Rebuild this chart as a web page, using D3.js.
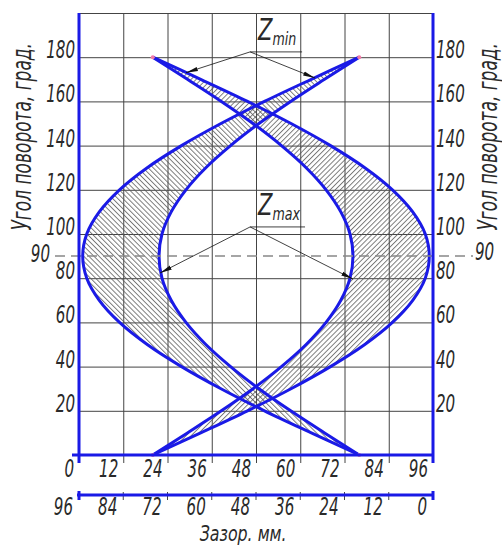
<!DOCTYPE html>
<html>
<head>
<meta charset="utf-8">
<script src="https://cdn.jsdelivr.net/npm/d3@7"></script>
<style>
    body { margin: 0; background: #fff; }
    svg text {
        font-family: "DejaVu Sans Condensed", "DejaVu Sans", sans-serif;
        font-style: italic;
        fill: #2a2a2a;
    }
</style>
</head>
<body>
<div id="chart"></div>
<script>
// angle of rotation, degrees
const angles = [0, 10, 20, 30, 40, 50, 60, 70, 80, 90, 100, 110, 120, 130, 140, 150, 160, 170, 180];
// clearance read on the upper scale (right-hand band); the left band is the same curve read on the lower, reversed scale
const outerGap = [20, 33.0, 45.7, 57.5, 68.2, 77.5, 85.0, 90.5, 93.9, 95.0, 93.9, 90.5, 85.0, 77.5, 68.2, 57.5, 45.7, 33.0, 20];
const innerGap = [20, 29.4, 38.6, 47.2, 54.9, 61.6, 67.0, 71.0, 73.5, 74.3, 73.5, 71.0, 67.0, 61.6, 54.9, 47.2, 38.6, 29.4, 20];

const gapTicks = [0, 12, 24, 36, 48, 60, 72, 84, 96];
const angleGrid = [0, 20, 40, 60, 80, 100, 120, 140, 160, 180, 200];
const angleLabels = [20, 40, 60, 80, 100, 120, 140, 160, 180];
const markAngle = 90;

// leader notes, in upper-scale mm / degrees
const zMinShelf = [46.4, 60.5, 182.4];
const zMinTips = [[29.0, 173], [64.0, 170.6]];
const zMaxShelf = [46.4, 61.3, 103.2];
const zMaxTips = [[22.0, 82.4], [74.3, 79.6]];

const BLUE = "#1a1ae6";
const NARROW = 0.7;   // squeeze the font to look like the drawing type
const width = 502, height = 546;
const margin = { left: 79, right: 69, top: 13, bottom: 91 };

const svg = d3.select("#chart").append("svg")
    .attr("width", width)
    .attr("height", height);

const x = d3.scaleLinear().domain([0, 96]).range([margin.left, width - margin.right]);
const xRev = d3.scaleLinear().domain([96, 0]).range([margin.left, width - margin.right]);
const y = d3.scaleLinear().domain([0, 200]).range([height - margin.bottom, margin.top]);

const y0 = y(0), x0 = x(0), x1 = x(96);

const at = (px, py, s = NARROW) => `translate(${px},${py}) scale(${s},1)`;

// hatch patterns
const defs = svg.append("defs");
[["hatchR", 45], ["hatchL", -45]].forEach(([id, rot]) => {
    const p = defs.append("pattern")
        .attr("id", id)
        .attr("patternUnits", "userSpaceOnUse")
        .attr("width", 3.6).attr("height", 10)
        .attr("patternTransform", `rotate(${rot})`);
    p.append("line")
        .attr("x1", 0.5).attr("x2", 0.5).attr("y1", 0).attr("y2", 10)
        .attr("stroke", "#555").attr("stroke-width", 0.8);
});
defs.append("marker")
    .attr("id", "arrow")
    .attr("viewBox", "0 0 12 6")
    .attr("refX", 12).attr("refY", 3)
    .attr("markerWidth", 12).attr("markerHeight", 6)
    .attr("markerUnits", "userSpaceOnUse")
    .attr("orient", "auto")
    .append("path").attr("d", "M0,0.8L12,3L0,5.2Z").attr("fill", "#111");

// grid
svg.append("g")
    .attr("transform", `translate(0,${y0 + 8})`)
    .call(d3.axisBottom(x).tickValues(gapTicks).tickSize(-(y0 + 8 - margin.top)).tickFormat(""))
    .call(g => g.select(".domain").remove())
    .call(g => g.selectAll("line").attr("stroke", "#444").attr("stroke-width", 1));
svg.append("g")
    .attr("transform", `translate(${x0},0)`)
    .call(d3.axisLeft(y).tickValues(angleGrid).tickSize(-(x1 - x0)).tickFormat(""))
    .call(g => g.select(".domain").remove())
    .call(g => g.selectAll("line").attr("stroke", "#444").attr("stroke-width", 1));

// bands
const pts = angles.map((a, i) => ({ a, o: outerGap[i], n: innerGap[i] }));
const bands = [{ sx: x, fill: "url(#hatchR)" }, { sx: xRev, fill: "url(#hatchL)" }];

bands.forEach(b => {
    const area = d3.area()
        .y(d => y(d.a))
        .x0(d => b.sx(d.n))
        .x1(d => b.sx(d.o))
        .curve(d3.curveCatmullRom);
    svg.append("path").datum(pts).attr("d", area).attr("fill", b.fill);
});

bands.forEach(b => {
    ["o", "n"].forEach(k => {
        const line = d3.line()
            .x(d => b.sx(d[k]))
            .y(d => y(d.a))
            .curve(d3.curveCatmullRom);
        svg.append("path").datum(pts).attr("d", line)
            .attr("fill", "none").attr("stroke", BLUE)
            .attr("stroke-width", 3).attr("stroke-linejoin", "round");
    });
    svg.selectAll(null).data([pts[0], pts[pts.length - 1]]).join("circle")
        .attr("cx", d => b.sx(d.o)).attr("cy", d => y(d.a))
        .attr("r", 2).attr("fill", "#f27aa8");
});

// 90 degree dashed mark
svg.append("line")
    .attr("x1", x0 - 24).attr("x2", x1 + 40)
    .attr("y1", y(markAngle)).attr("y2", y(markAngle))
    .attr("stroke", "#888").attr("stroke-width", 1.5)
    .attr("stroke-dasharray", "10,6");

// blue frame: side axes
[x0, x1].forEach(px => {
    svg.append("line")
        .attr("x1", px).attr("x2", px)
        .attr("y1", margin.top).attr("y2", y0 + 8)
        .attr("stroke", BLUE).attr("stroke-width", 3);
});

// upper gap scale
svg.append("line")
    .attr("x1", x0 - 7).attr("x2", x1).attr("y1", y0).attr("y2", y0)
    .attr("stroke", BLUE).attr("stroke-width", 3);
svg.selectAll(null).data(gapTicks).join("text")
    .attr("transform", d => at(x(d) - 5, y0 + 22))
    .attr("text-anchor", "end").attr("font-size", 24)
    .text(d => d);

// lower reversed gap scale
const yLow = y0 + 40;
svg.append("g")
    .selectAll("line").data(gapTicks.slice(1, -1)).join("line")
    .attr("x1", d => xRev(d)).attr("x2", d => xRev(d))
    .attr("y1", yLow - 3).attr("y2", yLow + 5)
    .attr("stroke", "#444");
svg.append("line")
    .attr("x1", x0 - 2).attr("x2", x1).attr("y1", yLow).attr("y2", yLow)
    .attr("stroke", BLUE).attr("stroke-width", 3);
[x0, x1].forEach(px => {
    svg.append("line")
        .attr("x1", px).attr("x2", px).attr("y1", yLow - 4).attr("y2", yLow + 5)
        .attr("stroke", BLUE).attr("stroke-width", 3);
});
svg.selectAll(null).data(gapTicks).join("text")
    .attr("transform", d => at(xRev(d) - 6, yLow + 20))
    .attr("text-anchor", "end").attr("font-size", 24)
    .text(d => d);

svg.append("text")
    .attr("transform", at(x(44.5), height - 5, 0.8))
    .attr("text-anchor", "middle").attr("font-size", 22)
    .text("Зазор. мм.");

// angle labels, both sides
svg.selectAll(null).data(angleLabels).join("text")
    .attr("transform", d => at(x0 - 4, y(d) + 1))
    .attr("text-anchor", "end").attr("font-size", 24)
    .text(d => d);
svg.selectAll(null).data(angleLabels).join("text")
    .attr("transform", d => at(x1 + 3, y(d) + 1))
    .attr("text-anchor", "start").attr("font-size", 24)
    .text(d => d);
svg.append("text")
    .attr("transform", at(x0 - 29, y(markAngle) + 6))
    .attr("text-anchor", "end").attr("font-size", 24)
    .text(markAngle);
svg.append("text")
    .attr("transform", at(x1 + 42, y(markAngle) + 4))
    .attr("text-anchor", "start").attr("font-size", 24)
    .text(markAngle);

// axis titles
svg.append("text")
    .attr("transform", `translate(31,${y(144)}) rotate(-90) scale(${NARROW},1)`)
    .attr("text-anchor", "middle").attr("font-size", 27)
    .text("Угол поворота, град.");
svg.append("text")
    .attr("transform", `translate(497,${y(144)}) rotate(-90) scale(${NARROW},1)`)
    .attr("text-anchor", "middle").attr("font-size", 27)
    .text("Угол поворота, град.");

// Zmin / Zmax leaders
function note(shelf, tips, sub) {
    const [a, b, deg] = shelf;
    const g = svg.append("g");
    g.append("line")
        .attr("x1", x(a)).attr("x2", x(b)).attr("y1", y(deg)).attr("y2", y(deg))
        .attr("stroke", "#111").attr("stroke-width", 0.8);
    tips.forEach(([mm, d]) => {
        g.append("line")
            .attr("x1", x(a)).attr("y1", y(deg))
            .attr("x2", x(mm)).attr("y2", y(d))
            .attr("stroke", "#111").attr("stroke-width", 0.8)
            .attr("marker-end", "url(#arrow)");
    });
    const t = g.append("text")
        .attr("transform", at(x(a) + 8, y(deg) - 12, 0.78))
        .attr("font-size", 30);
    t.append("tspan").text("Z");
    t.append("tspan").attr("font-size", 18).attr("dy", 5).text(sub);
}
note(zMinShelf, zMinTips, "min");
note(zMaxShelf, zMaxTips, "max");
</script>
</body>
</html>
